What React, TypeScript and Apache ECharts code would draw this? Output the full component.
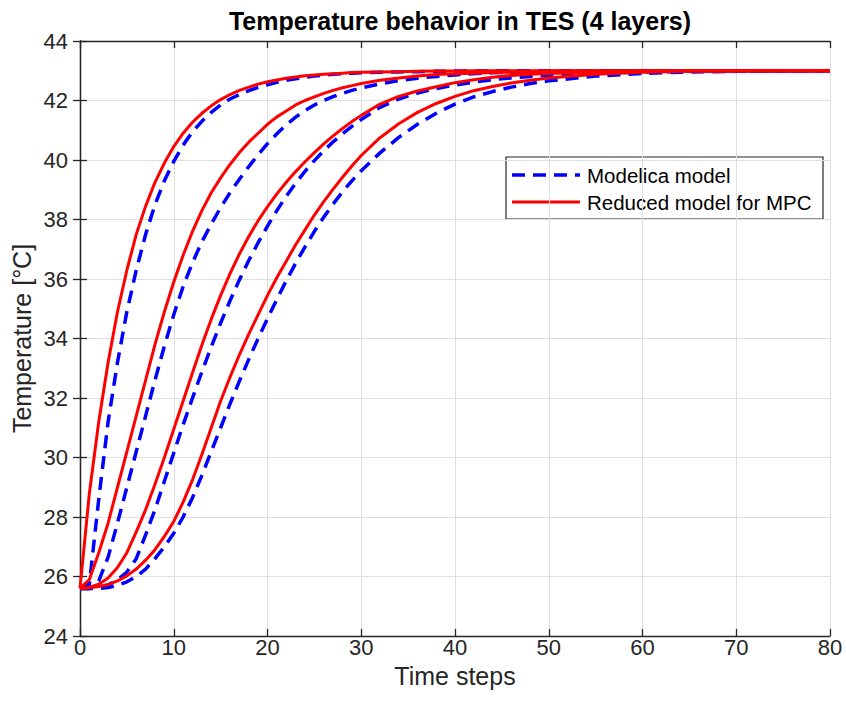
import React, { useEffect, useRef } from "react";
import * as echarts from "echarts";

const TIME = [
  0, 1, 2, 3, 4, 5, 6, 7, 8, 9, 10, 11, 12, 13, 14, 15, 16, 17, 18, 19, 20,
  21, 22, 23, 24, 25, 26, 27, 28, 29, 30,
  32, 34, 36, 38, 40, 42, 44, 46, 48, 50,
  55, 60, 65, 70, 75, 80,
];

// Modelica model (dashed blue), layers 1..4
const MODELICA_L1 = [
  25.6, 25.75, 28.6, 31.2, 33.2, 34.9, 36.3, 37.5, 38.5, 39.3, 39.95, 40.5, 40.95, 41.3, 41.6, 41.85, 42.05, 42.2, 42.33, 42.44, 42.53,
  42.61, 42.68, 42.73, 42.78, 42.82, 42.85, 42.88, 42.9, 42.92, 42.93,
  42.95, 42.96, 42.97, 42.98, 42.99, 42.99, 43, 43, 43, 43,
  43, 43, 43, 43, 43, 43,
];
const MODELICA_L2 = [
  25.6, 25.6, 25.85, 26.65, 27.8, 29.0, 30.2, 31.4, 32.6, 33.75, 34.8, 35.75, 36.55, 37.25, 37.85, 38.4, 38.9, 39.35, 39.78, 40.18, 40.55,
  40.88, 41.18, 41.44, 41.66, 41.85, 42.0, 42.13, 42.24, 42.34, 42.42,
  42.56, 42.67, 42.75, 42.81, 42.86, 42.9, 42.93, 42.95, 42.96, 42.97,
  42.99, 43, 43, 43, 43, 43,
];
const MODELICA_L3 = [
  25.6, 25.6, 25.64, 25.72, 25.88, 26.15, 26.6, 27.4, 28.25, 29.2, 30.15, 31.1, 32.0, 32.88, 33.72, 34.52, 35.27, 35.97, 36.62, 37.22, 37.78,
  38.3, 38.78, 39.22, 39.62, 39.98, 40.31, 40.61, 40.88, 41.13, 41.36,
  41.77, 42.05, 42.25, 42.4, 42.52, 42.62, 42.7, 42.76, 42.81, 42.85,
  42.92, 42.96, 42.98, 42.99, 43, 43,
];
const MODELICA_L4 = [
  25.6, 25.6, 25.6, 25.63, 25.7, 25.82, 26.0, 26.25, 26.6, 27.0, 27.45, 28.0, 28.65, 29.4, 30.2, 31.0, 31.8, 32.57, 33.3, 34.0, 34.67,
  35.32, 35.94, 36.53, 37.08, 37.6, 38.08, 38.52, 38.93, 39.3, 39.64,
  40.24, 40.76, 41.2, 41.57, 41.88, 42.12, 42.3, 42.45, 42.57, 42.66,
  42.82, 42.91, 42.96, 42.98, 42.99, 43,
];

// Reduced model for MPC (solid red), layers 1..4
const REDUCED_L1 = [
  25.6, 28.8, 31.2, 33.2, 34.9, 36.3, 37.5, 38.45, 39.25, 39.9, 40.45, 40.9, 41.27, 41.57, 41.82, 42.03, 42.2, 42.34, 42.45, 42.55, 42.63,
  42.69, 42.75, 42.79, 42.83, 42.86, 42.88, 42.9, 42.92, 42.94, 42.95,
  42.96, 42.97, 42.98, 42.99, 42.99, 43, 43, 43, 43, 43,
  43, 43, 43, 43, 43, 43,
];
const REDUCED_L2 = [
  25.6, 25.9, 26.8, 27.8, 29.0, 30.2, 31.4, 32.6, 33.8, 34.9, 35.9, 36.8, 37.6, 38.3, 38.9, 39.4, 39.85, 40.25, 40.6, 40.9, 41.2,
  41.45, 41.65, 41.85, 42.0, 42.12, 42.24, 42.34, 42.43, 42.5, 42.57,
  42.68, 42.76, 42.82, 42.87, 42.9, 42.92, 42.94, 42.95, 42.97, 42.98,
  42.99, 43, 43, 43, 43, 43,
];
const REDUCED_L3 = [
  25.6, 25.63, 25.74, 25.95, 26.3, 26.8, 27.5, 28.25, 29.1, 30.0, 30.95, 31.9, 32.85, 33.78, 34.65, 35.45, 36.18, 36.84, 37.43, 37.96, 38.43,
  38.86, 39.25, 39.61, 39.94, 40.25, 40.54, 40.81, 41.06, 41.29, 41.5,
  41.88, 42.14, 42.32, 42.46, 42.6, 42.7, 42.78, 42.84, 42.88, 42.91,
  42.95, 42.98, 42.99, 43, 43, 43,
];
const REDUCED_L4 = [
  25.6, 25.62, 25.66, 25.73, 25.85, 26.02, 26.25, 26.55, 26.9, 27.35, 27.85, 28.5, 29.25, 30.1, 31.0, 31.9, 32.7, 33.45, 34.15, 34.8, 35.45,
  36.05, 36.6, 37.15, 37.65, 38.15, 38.6, 39.02, 39.42, 39.8, 40.15,
  40.75, 41.22, 41.6, 41.9, 42.14, 42.33, 42.47, 42.59, 42.68, 42.76,
  42.88, 42.95, 42.98, 42.99, 43, 43,
];

const X_TICKS = { min: 0, max: 80, interval: 10 };
const Y_TICKS = { min: 24, max: 44, interval: 2 };

const TITLE = "Temperature behavior in TES (4 layers)";
const X_NAME = "Time steps";
const Y_NAME = "Temperature [°C]";
const NAME_MODELICA = "Modelica model";
const NAME_REDUCED = "Reduced model for MPC";

const FONT = "'Liberation Sans', Arial, Helvetica, sans-serif";
const AXIS_COLOR = "#262626";
const GRID_COLOR = "#dfdfdf";
const BLUE = "#0000ff";
const RED = "#ff0000";

function pairs(ys: number[]) {
  return TIME.map((t, i) => [t, ys[i]]);
}

export default function App() {
  const ref = useRef<HTMLDivElement>(null);

  useEffect(() => {
    if (!ref.current) return;
    const chart = echarts.init(ref.current, undefined, { renderer: "svg" });

    const blueSeries = [MODELICA_L1, MODELICA_L2, MODELICA_L3, MODELICA_L4].map((d) => ({
      type: "line",
      name: NAME_MODELICA,
      data: pairs(d),
      symbol: "none",
      smooth: false,
      lineStyle: { color: BLUE, width: 3.5, type: [13, 8], join: "round" },
      itemStyle: { color: BLUE },
      z: 2,
    }));
    const redSeries = [REDUCED_L1, REDUCED_L2, REDUCED_L3, REDUCED_L4].map((d) => ({
      type: "line",
      name: NAME_REDUCED,
      data: pairs(d),
      symbol: "none",
      smooth: false,
      lineStyle: { color: RED, width: 3, join: "round" },
      itemStyle: { color: RED },
      z: 3,
    }));

    const baseAxisLine = { show: true, lineStyle: { color: AXIS_COLOR, width: 1.3 } };
    const tick = { show: true, inside: true, length: 7, lineStyle: { color: AXIS_COLOR, width: 1.3 } };

    chart.setOption({
      animation: false,
      backgroundColor: "#ffffff",
      textStyle: { fontFamily: FONT },
      title: {
        text: TITLE,
        left: 455,
        top: 3,
        textAlign: "center",
        textStyle: { fontFamily: FONT, fontWeight: "bold", fontSize: 25, color: "#000000" },
      },
      grid: { left: 80, right: 16, top: 41, bottom: 70, containLabel: false },
      xAxis: [
        {
          type: "value",
          ...X_TICKS,
          name: X_NAME,
          nameLocation: "middle",
          nameGap: 27,
          nameMoveOverlap: false,
          nameTextStyle: { fontFamily: FONT, fontSize: 25, color: AXIS_COLOR, verticalAlign: "top" },
          axisLine: baseAxisLine,
          axisTick: tick,
          axisLabel: { fontFamily: FONT, fontSize: 22, color: AXIS_COLOR, margin: 0 },
          splitLine: { show: true, lineStyle: { color: GRID_COLOR, width: 1 } },
        },
        {
          type: "value",
          ...X_TICKS,
          position: "top",
          axisLine: baseAxisLine,
          axisTick: tick,
          axisLabel: { show: false },
          splitLine: { show: false },
        },
      ],
      yAxis: [
        {
          type: "value",
          ...Y_TICKS,
          name: Y_NAME,
          nameLocation: "middle",
          nameGap: 46,
          nameMoveOverlap: false,
          nameTextStyle: { fontFamily: FONT, fontSize: 25, color: AXIS_COLOR },
          axisLine: baseAxisLine,
          axisTick: tick,
          axisLabel: { fontFamily: FONT, fontSize: 22, color: AXIS_COLOR, margin: 12 },
          splitLine: { show: true, lineStyle: { color: GRID_COLOR, width: 1 } },
        },
        {
          type: "value",
          ...Y_TICKS,
          position: "right",
          axisLine: baseAxisLine,
          axisTick: tick,
          axisLabel: { show: false },
          splitLine: { show: false },
        },
      ],
      series: [...blueSeries, ...redSeries],
      graphic: [
        {
          type: "group",
          z: 100,
          children: [
            {
              type: "rect",
              shape: { x: 506, y: 157, width: 317, height: 62 },
              style: { fill: "#ffffff", stroke: AXIS_COLOR, lineWidth: 1.2 },
            },
            {
              type: "line",
              shape: { x1: 512, y1: 175, x2: 580, y2: 175 },
              style: { stroke: BLUE, lineWidth: 3.5, lineDash: [13, 8] },
            },
            {
              type: "line",
              shape: { x1: 512, y1: 202, x2: 580, y2: 202 },
              style: { stroke: RED, lineWidth: 3 },
            },
            {
              type: "text",
              x: 587,
              y: 175,
              style: {
                text: NAME_MODELICA,
                fontFamily: FONT,
                fontSize: 20.5,
                fill: "#000000",
                verticalAlign: "middle",
                align: "left",
              },
            },
            {
              type: "text",
              x: 587,
              y: 202,
              style: {
                text: NAME_REDUCED,
                fontFamily: FONT,
                fontSize: 20.5,
                fill: "#000000",
                verticalAlign: "middle",
                align: "left",
              },
            },
          ],
        },
      ],
    });

    return () => {
      chart.dispose();
    };
  }, []);

  return (
    <div
      ref={ref}
      style={{ position: "fixed", left: 0, top: 0, width: 846, height: 706, background: "#ffffff" }}
    />
  );
}
